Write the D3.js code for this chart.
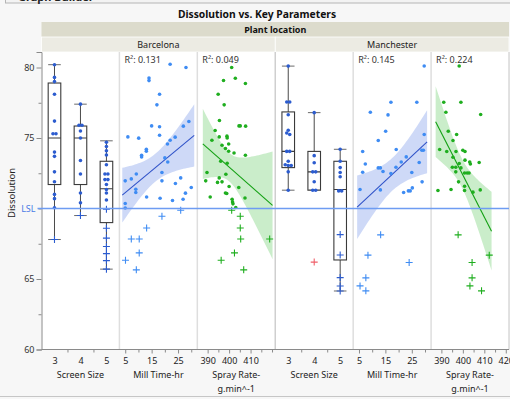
<!DOCTYPE html>
<html>
<head>
<meta charset="utf-8">
<script src="https://cdn.jsdelivr.net/npm/d3@7"></script>
<style>
  body { margin: 0; background: #f7f7f7; }
  svg { display: block; font-family: "Noto Sans", sans-serif; }
</style>
</head>
<body>
<div id="chart"></div>
<script>
"use strict";

// ---- values ----
var locations = ["Barcelona", "Manchester"];
var factorTitles = [["Screen Size"], ["Mill Time-hr"], ["Spray Rate-", "g.min^-1"]];
var millR2 = ["R\u00b2: 0.131", "R\u00b2: 0.145"];
var sprayR2 = ["R\u00b2: 0.049", "R\u00b2: 0.224"];
var screenSizes = [3, 4, 5];
var millTickLabels = [5, 15, 25];
var millMinorTicks = [10, 20, 30];
var sprayTickLabels = [[390, 400, 410], [390, 400, 410, 420]];
var sprayMinorTicks = [395, 405, 415];
var yTickLabels = [60, 65, 75, 80];
var lsl = 70;

// box summaries: [size, low whisker, q1, median, q3, high whisker]
var boxBarcelona = [
  [3, 67.8, 71.7, 75.0, 78.9, 80.2],
  [4, 69.5, 71.7, 75.0, 75.85, 77.4],
  [5, 65.7, 69.0, 71.4, 73.35, 74.8]
];
var boxManchester = [
  [3, 71.3, 72.9, 74.05, 76.85, 80.1],
  [4, 71.3, 71.3, 72.6, 74.05, 76.8],
  [5, 64.15, 66.35, 71.35, 73.35, 74.2]
];

// dissolution by screen size (3, 4, 5)
var screenBarcelona = [
  [80.2, 79.3, 79.0, 78.1, 76.2, 75.3, 75.3, 74.0, 73.7, 72.6, 71.9, 71.0, 70.7, 70.05, 67.8],
  [77.4, 75.9, 75.9, 75.5, 75.0, 73.4, 72.45, 71.1, 70.4, 69.5],
  [74.7, 74.4, 74.1, 73.8, 73.1, 72.45, 72.45, 72.05, 72.05, 71.7, 71.35, 71.1, 70.6, 69.95, 68.6, 67.9, 67.3, 66.8, 66.3, 65.7]
];
var screenManchester = [
  [80.1, 77.55, 77.55, 76.65, 75.55, 75.35, 75.25, 74.05, 74.05, 73.35, 73.1, 73.05, 73.05, 72.6, 71.3],
  [76.8, 73.75, 73.25, 72.6, 72.6, 71.9, 71.3, 71.3],
  [74.2, 73.35, 72.9, 72.55, 72.25, 71.25, 71.25, 68.15, 66.7, 65.1, 64.5, 64.15]
];
var flaggedManchester = [[4, 66.2]];

// [mill time, dissolution]
var millBarcelona = [
  [22, 80.23], [28, 80.0], [14, 79.26], [14, 79.07], [18, 78.1], [17, 77.35], [15, 75.86], [18, 75.8],
  [27, 75.84], [29.1, 76.17], [18, 75.2], [6, 75.08], [10.1, 74.99], [22, 74.84], [23.9, 75.06], [21, 74.58],
  [13, 74.2], [13, 74.06], [11.2, 73.78], [11.2, 73.66], [20, 73.59], [21.1, 73.3], [18.9, 72.55], [9.2, 72.45],
  [7.3, 72.1], [5, 71.96], [18.9, 71.96], [24, 71.77], [26, 72.17], [9, 71.37], [9, 71.13], [30, 71.49],
  [27.8, 71.09], [13.1, 70.82], [18.2, 70.73], [22.9, 70.57], [26.9, 70.66], [5, 70.35], [5, 70.04],
  [18.9, 69.45], [26, 69.88], [13.1, 68.62], [7.3, 67.84], [10.3, 67.84], [10.3, 66.85], [5.1, 66.33], [9.2, 65.65]
];
var millManchester = [
  [29.7, 80.11], [9.3, 76.83], [16, 76.64], [17.1, 77.54], [26.9, 77.54], [15.1, 75.48], [12.3, 74.82], [29.7, 75.25],
  [6.4, 74.04], [19.1, 74.18], [28.8, 74.13], [29.4, 74.13], [7.4, 73.16], [22.9, 73.66], [21, 73.3], [27.8, 73.26],
  [12.3, 72.88], [13.1, 72.88], [14.1, 72.62], [17.1, 72.48], [19, 72.93], [6.4, 72.57], [25, 72.55], [28.9, 71.89],
  [5.4, 71.35], [13.1, 71.32], [21.9, 71.13], [23.7, 71.25], [24.4, 71.25], [25.2, 71.46],
  [13.2, 68.13], [8.4, 66.69], [24, 66.17], [7.6, 65.08], [5.4, 64.51], [7.6, 64.16]
];

// [spray rate, dissolution]
var sprayBarcelona = [
  [401.2, 80.0], [402.9, 79.24], [397.4, 79.08], [407.6, 78.87], [394.9, 78.1], [397.7, 77.35], [395.5, 76.24],
  [404.6, 75.86], [405.2, 75.86], [407.7, 75.84], [393.5, 75.53], [399, 75.13], [399.1, 75.0], [395.4, 75.08],
  [392, 74.84], [399.8, 74.58], [396.7, 74.49], [398.3, 74.26], [399.8, 74.06], [402.3, 73.94], [407.6, 73.78],
  [396.1, 73.35], [399.1, 73.21], [389.7, 72.55], [398.5, 72.43], [395.4, 72.17], [389.1, 71.96], [396.7, 71.89],
  [394.6, 71.85], [400, 71.56], [404.5, 71.49], [398.3, 71.1], [398.9, 71.06], [391.2, 70.82], [407.4, 70.75],
  [401.4, 70.66], [401.6, 70.47], [401.8, 70.33], [403.1, 70.07],
  [401.2, 69.88], [405.2, 69.45], [405.2, 68.62], [405.4, 67.84], [418.9, 67.84], [402.5, 66.85], [396.3, 66.33], [406.8, 65.65]
];
var sprayManchester = [
  [398.3, 80.11], [391.1, 77.54], [399.1, 77.54], [392.1, 76.83], [408.3, 76.67], [393.2, 75.48], [397.1, 75.25],
  [395.4, 74.82], [389.2, 74.18], [392.5, 74.04], [396.8, 74.04], [400, 74.13], [401, 74.04], [395.4, 73.64],
  [401, 73.43], [403.2, 73.3], [403.5, 73.16], [407.6, 73.26], [398.3, 73.19], [395.1, 72.93], [396.7, 72.93],
  [399.1, 72.88], [400.8, 72.52], [402, 72.52], [402.9, 72.52], [396.7, 72.6], [398, 71.89], [400.8, 71.58],
  [388.4, 71.28], [394.5, 71.35], [400.8, 71.28], [404.7, 71.16], [408.1, 71.32],
  [397.8, 68.13], [412.3, 66.69], [404.3, 66.17], [404.3, 65.08], [403.3, 64.51], [408.7, 64.16]
];

// ---- layout ----
var width = 510, height = 399;
var plot = {left: 41.5, right: 509, top: 52, bottom: 349.5};
var pw = (plot.right - plot.left) / 6;

var colors = {
  box: "#2c5ccf", mill: "#3f8cf3", spray: "#1fae1f",
  millLine: "#2f52c8", sprayLine: "#13a013",
  millBand: "#c9d5f6", sprayBand: "#c4ebc4",
  lsl: "#6e9cf2", flagged: "#f0606a"
};

var y = d3.scaleLinear().domain([60, 81.1]).range([plot.bottom, plot.top]);

var svg = d3.select("#chart").append("svg")
  .attr("width", width)
  .attr("height", height);

svg.append("rect").attr("width", width).attr("height", height).attr("fill", "#f7f7f7");

// window header, mostly cut off
svg.append("rect")
  .attr("x", 5.5).attr("y", -14).attr("width", 520).attr("height", 17)
  .attr("fill", "#f3f3f3").attr("stroke", "#b5b5b5");
svg.append("text")
  .attr("x", 18).attr("y", 1)
  .attr("font-size", 11).attr("font-weight", "bold").attr("fill", "#222")
  .text("Graph Builder");

svg.append("line")
  .attr("x1", 0).attr("x2", width).attr("y1", 396.5).attr("y2", 396.5)
  .attr("stroke", "#c6c6c6");

svg.append("text")
  .attr("x", 257).attr("y", 18)
  .attr("text-anchor", "middle")
  .attr("font-size", 10.3).attr("font-weight", "bold").attr("fill", "#111")
  .text("Dissolution vs. Key Parameters");

// header bands
svg.append("rect")
  .attr("x", plot.left).attr("y", 22).attr("width", plot.right - plot.left).attr("height", 15)
  .attr("fill", "#dcdbcc");
svg.append("text")
  .attr("x", (plot.left + plot.right) / 2).attr("y", 33)
  .attr("text-anchor", "middle").attr("font-size", 9).attr("font-weight", "bold").attr("fill", "#111")
  .text("Plant location");

locations.forEach(function(loc, i) {
  var x0 = plot.left + i * 3 * pw;
  svg.append("rect")
    .attr("x", x0).attr("y", 37).attr("width", 3 * pw).attr("height", plot.top - 37)
    .attr("fill", "#ecebe3").attr("stroke", "#fff").attr("stroke-width", 0.8);
  svg.append("text")
    .attr("x", x0 + 1.5 * pw).attr("y", 48)
    .attr("text-anchor", "middle").attr("font-size", 9).attr("fill", "#222")
    .text(loc);
});

svg.append("rect")
  .attr("x", plot.left).attr("y", plot.top)
  .attr("width", plot.right - plot.left).attr("height", plot.bottom - plot.top)
  .attr("fill", "#fff");

// panel separators
d3.range(1, 6).forEach(function(k) {
  svg.append("line")
    .attr("x1", plot.left + k * pw).attr("x2", plot.left + k * pw)
    .attr("y1", plot.top).attr("y2", plot.bottom)
    .attr("stroke", k == 3 ? "#cfcfcf" : "#dedede")
    .attr("stroke-width", 1.5);
});
svg.append("line")
  .attr("x1", plot.right).attr("x2", plot.right)
  .attr("y1", plot.top).attr("y2", plot.bottom)
  .attr("stroke", "#d8d8d8").attr("stroke-width", 1.5);

// LSL reference line (under marks)
var lslLayer = svg.append("g");

// ---- y axis ----
var yAxis = svg.append("g")
  .attr("transform", "translate(" + plot.left + ",0)")
  .call(d3.axisLeft(y).tickValues(yTickLabels).tickSize(5).tickPadding(2).tickFormat(d3.format("d")));
svg.append("g")
  .attr("transform", "translate(" + plot.left + ",0)")
  .call(d3.axisLeft(y).tickValues([62.5, 67.5, 70, 72.5, 77.5]).tickSize(3).tickFormat(""))
  .call(function(g) { g.select(".domain").remove(); });
svg.selectAll(".tick line").attr("stroke", "#8a8a8a");
yAxis.select(".domain").attr("stroke", "#8a8a8a");
yAxis.selectAll("text").attr("font-size", 9).attr("fill", "#333").attr("font-family", "Noto Sans");

svg.append("text")
  .attr("transform", "translate(15,193) rotate(-90)")
  .attr("text-anchor", "middle").attr("font-size", 9.5).attr("fill", "#222")
  .text("Dissolution");

lslLayer.append("line")
  .attr("x1", plot.left - 4).attr("x2", plot.right)
  .attr("y1", y(lsl)).attr("y2", y(lsl))
  .attr("stroke", colors.lsl).attr("stroke-width", 1.4);
lslLayer.append("text")
  .attr("x", plot.left - 6).attr("y", y(lsl) + 3.3)
  .attr("text-anchor", "end").attr("font-size", 9).attr("fill", "#4a7be6")
  .text("LSL");

// ---- helpers ----
function drawMark(g, cx, cy, v, color) {
  if (v < lsl) {
    g.append("path")
      .attr("d", "M" + (cx - 3.5) + "," + cy + "H" + (cx + 3.5) + "M" + cx + "," + (cy - 3.5) + "V" + (cy + 3.5))
      .attr("stroke", color).attr("stroke-width", 1.1).attr("fill", "none");
  } else {
    g.append("circle")
      .attr("cx", cx).attr("cy", cy).attr("r", 1.8)
      .attr("fill", color);
  }
}

function linearFit(pts) {
  var n = pts.length,
      mx = d3.mean(pts, function(d) { return d[0]; }),
      my = d3.mean(pts, function(d) { return d[1]; }),
      sxx = d3.sum(pts, function(d) { return (d[0] - mx) * (d[0] - mx); }),
      sxy = d3.sum(pts, function(d) { return (d[0] - mx) * (d[1] - my); }),
      b = sxy / sxx,
      a = my - b * mx,
      sse = d3.sum(pts, function(d) { var r = d[1] - a - b * d[0]; return r * r; }),
      s = Math.sqrt(sse / (n - 2)),
      t = 1.96 + 2.5 / (n - 2);
  return {
    at: function(x) { return a + b * x; },
    half: function(x) { return t * s * Math.sqrt(1 / n + (x - mx) * (x - mx) / sxx); }
  };
}

function xAxis(g, x, labels, minor, majorSize) {
  var ga = g.append("g")
    .attr("transform", "translate(0," + plot.bottom + ")")
    .call(d3.axisBottom(x).tickValues(labels).tickSize(majorSize).tickPadding(majorSize ? 4 : 8).tickFormat(d3.format("d")));
  ga.select(".domain").remove();
  ga.selectAll("line").attr("stroke", "#8a8a8a");
  ga.selectAll("text").attr("font-size", 9).attr("fill", "#222").attr("font-family", "Noto Sans");
  var gm = g.append("g")
    .attr("transform", "translate(0," + plot.bottom + ")")
    .call(d3.axisBottom(x).tickValues(minor).tickSize(3).tickFormat(""));
  gm.select(".domain").remove();
  gm.selectAll("line").attr("stroke", "#8a8a8a");
}

function axisTitle(g, cx, lines) {
  lines.forEach(function(t, i) {
    g.append("text")
      .attr("x", cx).attr("y", 378 + i * 13.5)
      .attr("text-anchor", "middle").attr("font-size", 9).attr("fill", "#222")
      .text(t);
  });
}

var clipId = 0;
function panelGroup(x0) {
  var id = "clip" + (clipId++);
  svg.append("clipPath").attr("id", id)
    .append("rect").attr("x", x0).attr("y", plot.top).attr("width", pw).attr("height", plot.bottom - plot.top);
  return svg.append("g").attr("clip-path", "url(#" + id + ")");
}

function drawScreenPanel(i, x0, boxes, groups, flagged) {
  var x = d3.scaleLinear().domain([2.5, 5.5]).range([x0, x0 + pw]);
  var g = panelGroup(x0);
  var half = 6.3;

  boxes.forEach(function(b) {
    var cx = x(b[0]);
    g.append("line")
      .attr("x1", cx).attr("x2", cx).attr("y1", y(b[1])).attr("y2", y(b[5]))
      .attr("stroke", "#4a4a4a");
    g.append("rect")
      .attr("x", cx - half).attr("y", y(b[4]))
      .attr("width", 2 * half).attr("height", y(b[2]) - y(b[4]))
      .attr("fill", "#fff").attr("stroke", "#3a3a3a").attr("stroke-width", 1.1);
    g.append("line")
      .attr("x1", cx - half).attr("x2", cx + half).attr("y1", y(b[3])).attr("y2", y(b[3]))
      .attr("stroke", "#3a3a3a").attr("stroke-width", 1.1);
    [b[1], b[5]].forEach(function(w) {
      g.append("line")
        .attr("x1", cx - half).attr("x2", cx + half).attr("y1", y(w)).attr("y2", y(w))
        .attr("stroke", "#6a6a6a");
    });
  });

  // dots in a column, side by side where values coincide
  groups.forEach(function(vals, k) {
    var cx = x(screenSizes[k]);
    var sorted = vals.slice().sort(d3.descending);
    var clusters = [];
    sorted.forEach(function(v) {
      var last = clusters[clusters.length - 1];
      if (last && Math.abs(last[last.length - 1] - v) < 0.12) last.push(v);
      else clusters.push([v]);
    });
    clusters.forEach(function(c) {
      c.forEach(function(v, j) {
        drawMark(g, cx + (j - (c.length - 1) / 2) * 3, y(v), v, colors.box);
      });
    });
  });

  flagged.forEach(function(d) {
    drawMark(g, x(d[0]), y(d[1]), d[1], colors.flagged);
  });

  xAxis(svg, x, screenSizes, [3.5, 4.5], 0);
  axisTitle(svg, x0 + pw / 2, factorTitles[0]);
}

function drawFitPanel(x0, domain, pts, color, lineColor, bandColor, label, labels, minor, titleLines) {
  var x = d3.scaleLinear().domain(domain).range([x0, x0 + pw]);
  var g = panelGroup(x0);
  var f = linearFit(pts);
  var ext = d3.extent(pts, function(d) { return d[0]; });
  var pad = (ext[1] - ext[0]) * 0.045;
  var xs = d3.range(41).map(function(k) { return ext[0] - pad + k * (ext[1] - ext[0] + 2 * pad) / 40; });

  g.append("path")
    .datum(xs)
    .attr("d", d3.area()
      .x(function(d) { return x(d); })
      .y0(function(d) { return y(f.at(d) - f.half(d)); })
      .y1(function(d) { return y(f.at(d) + f.half(d)); }))
    .attr("fill", bandColor).attr("opacity", 0.9);

  g.append("line")
    .attr("x1", x(xs[0])).attr("y1", y(f.at(xs[0])))
    .attr("x2", x(xs[40])).attr("y2", y(f.at(xs[40])))
    .attr("stroke", lineColor).attr("stroke-width", 1.1);

  pts.forEach(function(d) {
    drawMark(g, x(d[0]), y(d[1]), d[1], color);
  });

  svg.append("text")
    .attr("x", x0 + 5).attr("y", 63)
    .attr("font-size", 9).attr("fill", "#333")
    .text(label);

  xAxis(svg, x, labels, minor, 4);
  axisTitle(svg, x0 + pw / 2, titleLines);
}

// ---- panels ----
var screenData = [screenBarcelona, screenManchester];
var boxData = [boxBarcelona, boxManchester];
var millData = [millBarcelona, millManchester];
var sprayData = [sprayBarcelona, sprayManchester];
var flaggedData = [[], flaggedManchester];

locations.forEach(function(loc, i) {
  var base = plot.left + i * 3 * pw;
  drawScreenPanel(i, base, boxData[i], screenData[i], flaggedData[i]);
  drawFitPanel(base + pw, [2.8, 32.3], millData[i], colors.mill, colors.millLine, colors.millBand,
    millR2[i], millTickLabels, millMinorTicks, factorTitles[1]);
  drawFitPanel(base + 2 * pw, [385.2, 421.5], sprayData[i], colors.spray, colors.sprayLine, colors.sprayBand,
    sprayR2[i], sprayTickLabels[i], i == 0 ? sprayMinorTicks.concat([420]) : sprayMinorTicks, factorTitles[2]);
});

// bottom axis line over everything
svg.append("line")
  .attr("x1", plot.left).attr("x2", plot.right)
  .attr("y1", plot.bottom).attr("y2", plot.bottom)
  .attr("stroke", "#8a8a8a");
lslLayer.raise();
</script>
</body>
</html>
